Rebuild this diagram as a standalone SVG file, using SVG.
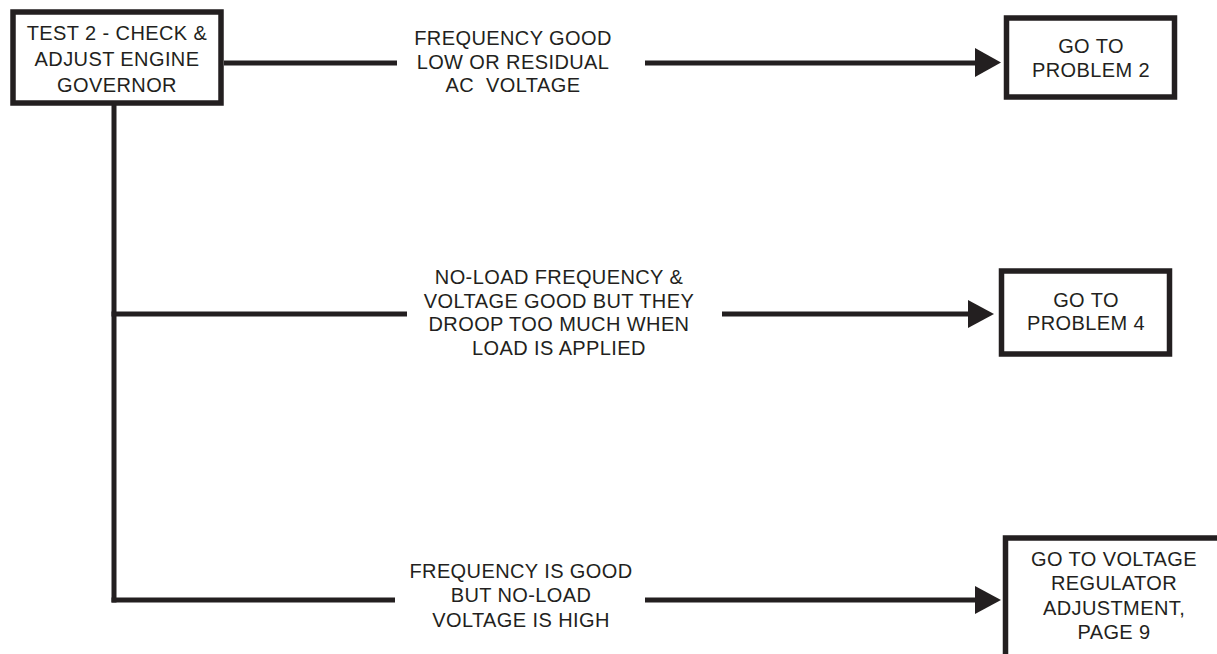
<svg xmlns="http://www.w3.org/2000/svg" width="1217" height="654" viewBox="0 0 1217 654">
<style>
.box{fill:#fff;stroke:#231f20;stroke-width:5.5}
.ln{fill:none;stroke:#231f20;stroke-width:5}
.ah{fill:#231f20}
text{font-family:"Liberation Sans",Arial,sans-serif;font-size:20px;fill:#231f20;text-anchor:middle;letter-spacing:0.4px}
</style>
<rect width="1217" height="654" fill="#fff"/>
<g id="connectors">
<polyline class="ln" points="224,63 397,63"/>
<polyline class="ln" points="645,63 977,63"/>
<polyline class="ln" points="114,103 114,602.5"/>
<polyline class="ln" points="111.5,314 407,314"/>
<polyline class="ln" points="722,314 970,314"/>
<polyline class="ln" points="111.5,600 395,600"/>
<polyline class="ln" points="645,600 977,600"/>
<polygon class="ah" points="975,48 1001,62.5 975,77"/>
<polygon class="ah" points="968,300 994,314 968,328"/>
<polygon class="ah" points="975,586 1001,600 975,614"/>
<g id="label-1">
<text x="513" y="45">FREQUENCY GOOD</text>
<text x="513" y="68.5">LOW OR RESIDUAL</text>
<text x="513" y="92" xml:space="preserve">AC  VOLTAGE</text>
</g>
<g id="label-2">
<text x="559" y="284">NO-LOAD FREQUENCY &amp;</text>
<text x="559" y="307.5">VOLTAGE GOOD BUT THEY</text>
<text x="559" y="331">DROOP TOO MUCH WHEN</text>
<text x="559" y="354.5">LOAD IS APPLIED</text>
</g>
<g id="label-3">
<text x="521" y="578">FREQUENCY IS GOOD</text>
<text x="521" y="602">BUT NO-LOAD</text>
<text x="521" y="626.5">VOLTAGE IS HIGH</text>
</g>
</g>
<g id="node-test2">
<rect class="box" x="13" y="12" width="208" height="91"/>
<text x="117" y="40">TEST 2 - CHECK &amp;</text>
<text x="117" y="66">ADJUST ENGINE</text>
<text x="117" y="92">GOVERNOR</text>
</g>
<g id="node-problem2">
<rect class="box" x="1006.5" y="18" width="168" height="79"/>
<text x="1091" y="53">GO TO</text>
<text x="1091" y="77">PROBLEM 2</text>
</g>
<g id="node-problem4">
<rect class="box" x="1001.5" y="271" width="168" height="83"/>
<text x="1086" y="307">GO TO</text>
<text x="1086" y="330">PROBLEM 4</text>
</g>
<g id="node-voltage-regulator">
<rect class="box" x="1005.5" y="538" width="225" height="140"/>
<text x="1114" y="565.5">GO TO VOLTAGE</text>
<text x="1114" y="590">REGULATOR</text>
<text x="1114" y="614.5">ADJUSTMENT,</text>
<text x="1114" y="639">PAGE 9</text>
</g>
</svg>
